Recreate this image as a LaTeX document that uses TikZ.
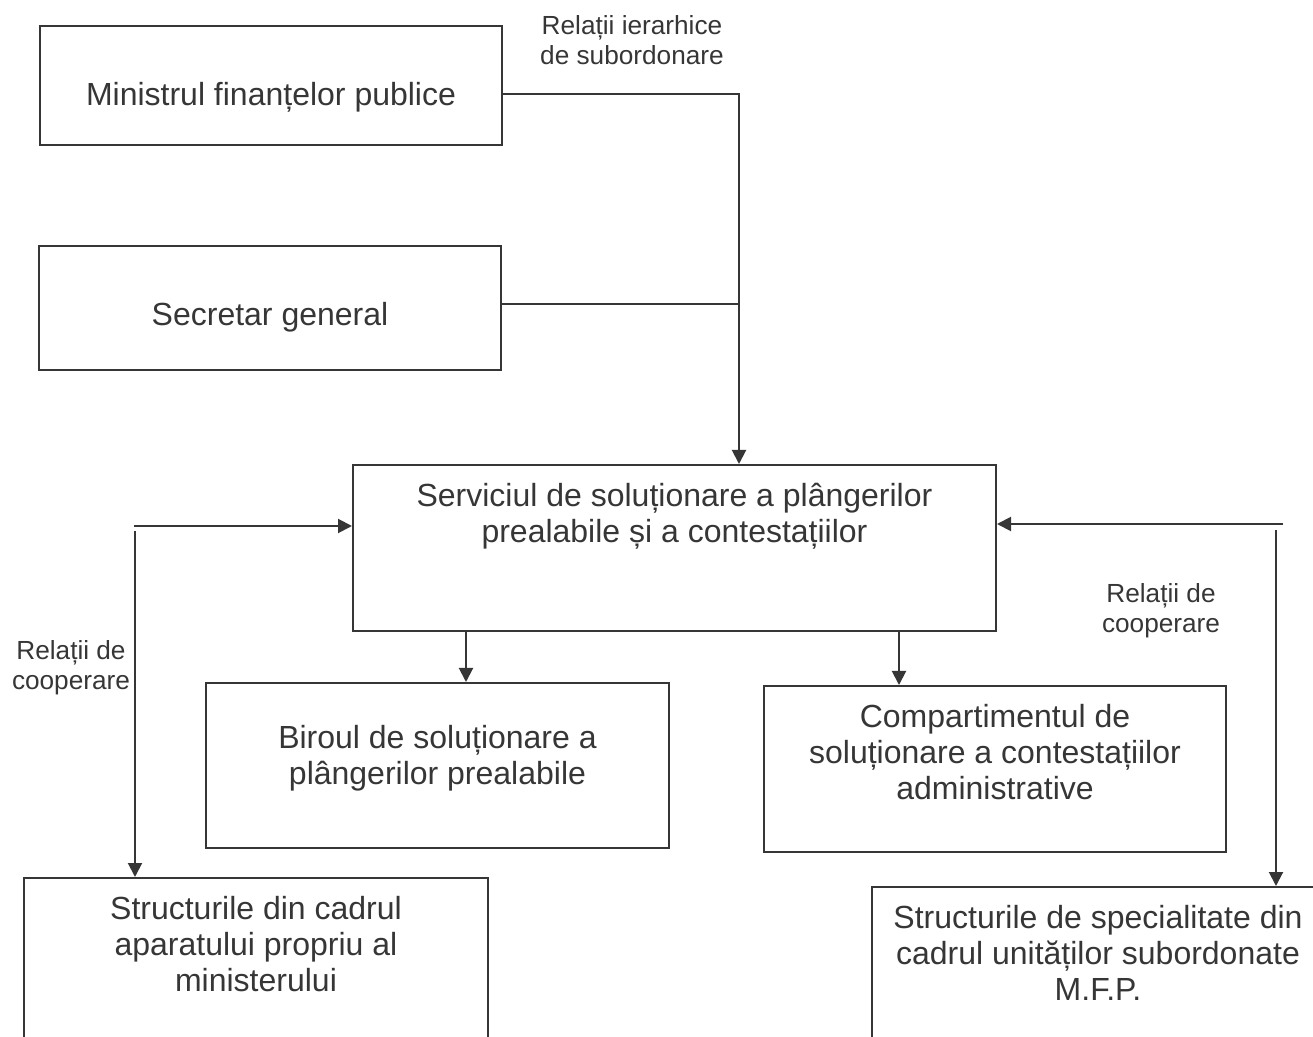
\documentclass[tikz,border=0pt]{standalone}
\usepackage{fontspec}
\setmainfont{Liberation Sans}
\usetikzlibrary{arrows.meta,calc}
\definecolor{ink}{HTML}{363636}
\begin{document}
\begin{tikzpicture}[x=0.5pt,y=-0.5pt,
  box/.style={draw=ink,line width=1pt,rectangle,inner sep=0,anchor=north west},
  bt/.style={font=\fontsize{16}{18}\selectfont,text=ink,align=center,inner sep=0,anchor=north},
  lbl/.style={font=\fontsize{13.1}{15}\selectfont,text=ink,align=center,inner sep=0},
  arr/.style={draw=ink,line width=1pt,-{Triangle[length=7pt,width=7pt]}},
  ln/.style={draw=ink,line width=1pt}]
\useasboundingbox (0,0) rectangle (1313,1037);
\clip (0,0) rectangle (1313,1037);

\node[box,minimum width=231pt,minimum height=59.5pt,
  label={[bt,yshift=-28.5pt]north:{Ministrul finanțelor publice}}] (min) at (39,25) {};
\node[box,minimum width=231pt,minimum height=62pt,
  label={[bt,yshift=-28.5pt]north:{Secretar general}}] (sec) at (38,245) {};
\node[box,minimum width=321.5pt,minimum height=83pt,
  label={[bt,yshift=-9.5pt]north:{Serviciul de soluționare a plângerilor\\prealabile și a contestațiilor}}] (serv) at (352,464) {};
\node[box,minimum width=231.5pt,minimum height=82.5pt,
  label={[bt,yshift=-21.5pt]north:{Biroul de soluționare a\\plângerilor prealabile}}] (bir) at (205,682) {};
\node[box,minimum width=231pt,minimum height=83pt,
  label={[bt,yshift=-9.5pt]north:{Compartimentul de\\soluționare a contestațiilor\\administrative}}] (comp) at (763,685) {};
\node[box,minimum width=232pt,minimum height=150pt,
  label={[bt,yshift=-9.5pt]north:{Structurile din cadrul\\aparatului propriu al\\ministerului}}] (str1) at (23,877) {};
\node[box,minimum width=226pt,minimum height=150pt,
  label={[bt,yshift=-9.5pt]north:{Structurile de specialitate din\\cadrul unităților subordonate\\M.F.P.}}] (str2) at (871,886) {};

% labels
\node[lbl] (lh) at (632,40) {Relații ierarhice\\de subordonare};
\node[lbl] (lc1) at (71,668) {Relații de\\cooperare};
\node[lbl] (lc2) at (1161,611) {Relații de\\cooperare};

% hierarchical
\coordinate (j) at (739,93);
\draw[arr] ([yshift=-4.25pt]min.east) -- ([yshift=-4.25pt]min.east -| j) -- (j |- serv.north);
\draw[ln] ([yshift=2pt]sec.east) -- ([yshift=2pt]sec.east -| j);

% down arrows
\coordinate (a1) at (466,0);
\coordinate (a2) at (899,0);
\draw[arr] (serv.south -| a1) -- (bir.north -| a1);
\draw[arr] (serv.south -| a2) -- (comp.north -| a2);

% cooperation left
\coordinate (cl) at (134,526);
\draw[arr] (cl) -- (serv.west |- cl);
\coordinate (cl2) at (135,531);
\draw[arr] (cl2) -- (str1.north -| cl2);

% cooperation right
\coordinate (cr) at (1283,524);
\draw[arr] (cr) -- (serv.east |- cr);
\coordinate (cr2) at (1276,530);
\draw[arr] (cr2) -- (str2.north -| cr2);
\end{tikzpicture}
\end{document}
